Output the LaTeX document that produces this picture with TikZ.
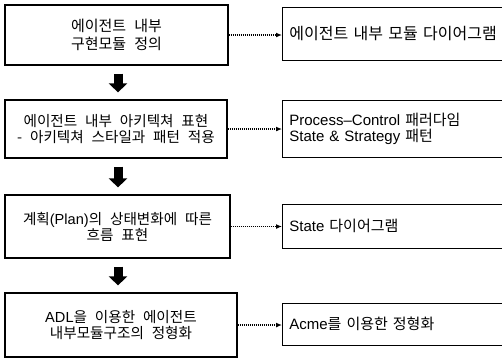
\documentclass[tikz,border=0pt]{standalone}
\usepackage{fontspec}
\setmainfont{Liberation Sans}
\newfontfamily\kr[WordSpace=2.4]{Noto Sans CJK KR}
\newcommand\lat[1]{{\rmfamily #1}}
\usetikzlibrary{arrows.meta}

\begin{document}
\begin{tikzpicture}[x=1pt,y=-1pt,
  stepbox/.style={draw=black, line width=1.2pt, inner sep=0pt, align=center,
    font=\kr\fontsize{14.6}{16}\selectfont},
  resultbox/.style={draw=black, line width=0.8pt, inner xsep=7pt, inner ysep=0pt,
    anchor=west, align=left, text width=216pt,
    font=\kr\fontsize{15}{16}\selectfont},
  flowarrow/.style={line width=9pt, -{Triangle[width=18pt,length=9pt]},
    shorten <=8pt, shorten >=7pt},
  linkarrow/.style={line width=1.2pt, dash pattern=on 1.2pt off 0.8pt,
    -{Latex[length=6pt,width=5pt]}}
]
\useasboundingbox (0,0) rectangle (502,359);
\fill[white] (0,0) rectangle (502,359);
\clip (0,0) rectangle (502,359);

% process steps (left column)
\node[stepbox, minimum width=223pt, minimum height=60pt,
  font=\kr\fontsize{15}{18}\selectfont] (b1) at (116.5,35)
  {에이전트 내부\\구현모듈 정의};
\node[stepbox, minimum width=222pt, minimum height=58pt] (b2) at (116,129)
  {에이전트 내부 아키텍쳐 표현\\- 아키텍쳐 스타일과 패턴 적용};
\node[stepbox, minimum width=225pt, minimum height=63pt] (b3) at (117.5,226.5)
  {계획\lat{(Plan)}의 상태변화에 따른\\흐름 표현};
\node[stepbox, minimum width=232pt, minimum height=64pt] (b4) at (121,325)
  {\lat{ADL}을 이용한 에이전트\\내부모듈구조의 정형화};

% results (right column, open to the right edge)
\node[resultbox, minimum height=53pt,
  font=\kr\fontsize{16}{16}\selectfont] (r1) at (282,33.5)
  {에이전트 내부 모듈 다이어그램};
\node[resultbox, minimum height=57pt] (r2) at (282,128.5)
  {\lat{Process–Control} 패러다임\\\lat{State \& Strategy} 패턴};
\node[resultbox, minimum height=44pt] (r3) at (282,226)
  {\lat{State} 다이어그램};
\node[resultbox, minimum height=42pt] (r4) at (282,324)
  {\lat{Acme}를 이용한 정형화};

% flow between steps
\coordinate (ax) at (118,0);
\draw[flowarrow] (b1.south -| ax) -- (b2.north -| ax);
\draw[flowarrow] (b2.south -| ax) -- (b3.north -| ax);
\draw[flowarrow] (b3.south -| ax) -- (b4.north -| ax);

% step -> result links
\draw[linkarrow] (b1.east) -- (b1.east -| r1.west);
\draw[linkarrow] (b2.east) -- (b2.east -| r2.west);
\draw[linkarrow] (b3.east) -- (b3.east -| r3.west);
\draw[linkarrow] (b4.east) -- (b4.east -| r4.west);
\end{tikzpicture}
\end{document}
